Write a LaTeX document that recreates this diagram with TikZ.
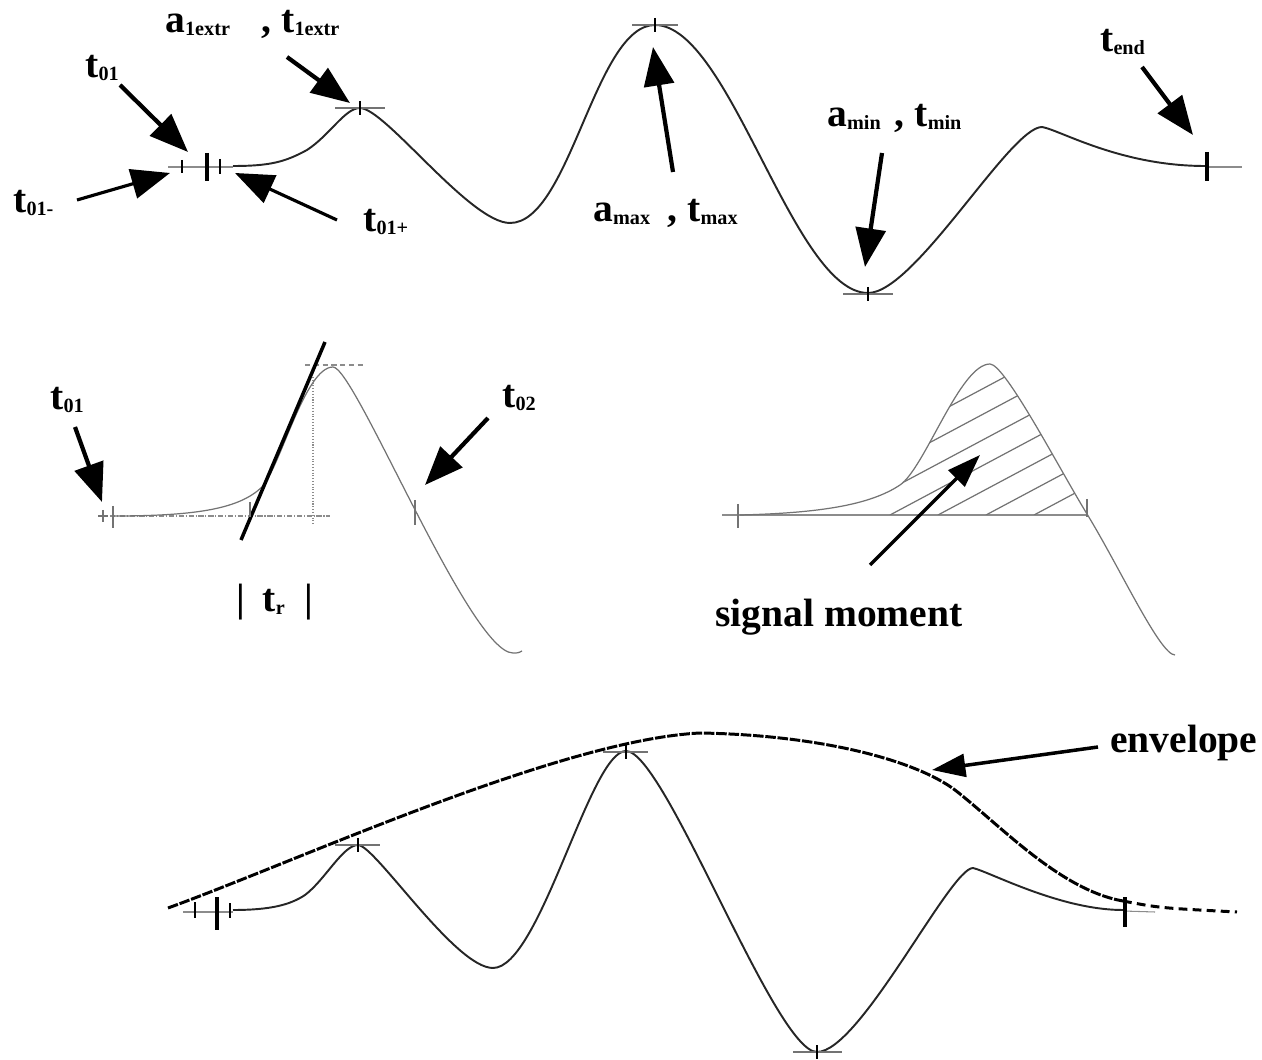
\documentclass[tikz,border=0pt]{standalone}
\usepackage{fontspec}
\setmainfont{Liberation Serif}
\usetikzlibrary{arrows.meta}
\newcommand{\lowidx}[1]{\raisebox{-1.5pt}{\fontsize{11.5}{13}\selectfont #1}}

\begin{document}
\begin{tikzpicture}[x=0.02cm, y=-0.02cm,
    lbl/.style={font=\bfseries\fontsize{22.5}{26}\selectfont, inner sep=0pt, anchor=base west},
    sig/.style={line width=1.1pt, black!85},
    faint/.style={line width=0.7pt, black!55},
    base/.style={line width=0.6pt, black!45},
    bigtick/.style={line width=2pt},
    smalltick/.style={line width=1.5pt},
    ptr/.style={-{Triangle[length=22pt, width=17pt]}, line width=2.4pt},
    thinptr/.style={-{Triangle[length=19pt, width=13pt]}, line width=2pt}
]
\useasboundingbox (0,0) rectangle (1262,1060);

% full signal
\draw[base] (168,167) -- (233,167);
\draw[base] (1205,167) -- (1242,167);
\draw[sig] (233,166) .. controls (270,166) and (285,162) .. (307,150)
  .. controls (330,135) and (345,108) .. (360,108)
  .. controls (385,108) and (470,223) .. (510,223)
  .. controls (570,223) and (595,25) .. (655,25)
  .. controls (730,25) and (793,293) .. (868,293)
  .. controls (915,293) and (1010,127) .. (1042,127)
  .. controls (1060,130) and (1120,166) .. (1205,166);
\draw[faint] (335,108) -- (385,108);
\draw[smalltick] (360,101) -- (360,115);
\draw[faint] (632,25) -- (678,25);
\draw[smalltick] (655,18) -- (655,32);
\draw[faint] (843,294) -- (893,294);
\draw[smalltick] (868,287) -- (868,301);
\draw[smalltick] (182,160) -- (182,173);
\draw[bigtick] (207,153) -- (207,181);
\draw[smalltick] (220,159) -- (220,174);
\draw[bigtick] (1207,152) -- (1207,181);

\coordinate (t01tip) at (188,152);
\coordinate (t01mtip) at (170,173);
\coordinate (t01ptip) at (235,173);
\coordinate (extrtip) at (350,103);
\coordinate (maxtip) at (653,47);
\coordinate (mintip) at (865,267);
\coordinate (endtip) at (1193,135);
\coordinate (t01tail) at (120,85);
\coordinate (t01mtail) at (77,200);
\coordinate (t01ptail) at (337,220);
\coordinate (extrtail) at (287,57);
\coordinate (maxtail) at (673,172);
\coordinate (mintail) at (882,153);
\coordinate (endtail) at (1142,67);

\node[lbl] (t01) at (85,78) {t\lowidx{01}};
\node[lbl] (t01m) at (13,213) {t\lowidx{01-}};
\node[lbl] (t01p) at (363,232) {t\lowidx{01+}};
\node[lbl] (extr) at (165,33) {a\lowidx{1extr}\hspace{18pt}, t\lowidx{1extr}};
\node[lbl] (max) at (593,222) {a\lowidx{max}\hspace{10pt}, t\lowidx{max}};
\node[lbl] (min) at (827,127) {a\lowidx{min}\hspace{8pt}, t\lowidx{min}};
\node[lbl] (tend) at (1100,52) {t\lowidx{end}};

\draw[ptr] (t01tail) -- (t01tip);
\draw[ptr, line width=1.8pt] (t01mtail) -- (t01mtip);
\draw[ptr, line width=1.8pt] (t01ptail) -- (t01ptip);
\draw[ptr] (extrtail) -- (extrtip);
\draw[ptr] (maxtail) -- (maxtip);
\draw[ptr] (mintail) -- (mintip);
\draw[ptr] (endtail) -- (endtip);

% rise time
\draw[base, densely dashdotted] (100,516) -- (330,516);
\draw[base, densely dotted] (313,377) -- (313,525);
\draw[base, densely dashed] (305,365) -- (363,365);
\draw[faint] (113,516) .. controls (200,516) and (240,508) .. (262,487)
  .. controls (280,468) and (305,367) .. (333,367)
  .. controls (355,367) and (470,653) .. (513,653)
  .. controls (518,653) .. (522,651);
\draw[line width=2pt] (241,540) -- (325,342);
\draw[faint] (103,510) -- (103,522);
\draw[faint] (98,516) -- (108,516);
\draw[faint] (113,506) -- (113,528);
\draw[faint] (250,502) -- (250,517);
\draw[faint] (415,500) -- (415,525);

\coordinate (s01tip) at (102,502);
\coordinate (s02tip) at (425,485);
\coordinate (s01tail) at (75,427);
\coordinate (s02tail) at (488,418);
\node[lbl] (s01) at (50,410) {t\lowidx{01}};
\node[lbl] (s02) at (502,408) {t\lowidx{02}};
\node[lbl] (tr) at (236,612) {|\hspace{10pt}t\lowidx{r}\hspace{11pt}|};
\draw[ptr] (s01tail) -- (s01tip);
\draw[ptr] (s02tail) -- (s02tip);

% signal moment
\draw[base] (722,515) -- (1087,515);
\draw[faint] (738,504) -- (738,528);
\draw[faint] (1087,499) -- (1087,517);
\draw[faint] (740,515) .. controls (820,513) and (870,505) .. (900,485)
  .. controls (925,468) and (960,364) .. (990,364)
  .. controls (1005,364) and (1060,470) .. (1087,514)
  .. controls (1120,568) and (1160,655) .. (1175,655);
\begin{scope}
\clip (900,485) .. controls (925,468) and (960,364) .. (990,364)
  .. controls (1005,364) and (1060,470) .. (1087,514) -- (1087,515) -- (885,515)
  .. controls (890,495) .. cycle;
\foreach \x in {698,746,...,1034}
  \draw[faint] (\x,515) -- ++(300,-160);
\end{scope}
\coordinate (momtip) at (980,455);
\coordinate (momtail) at (870,565);
\node[lbl] (mom) at (715,627) {signal moment};
\draw[thinptr] (momtail) -- (momtip);

% envelope
\draw[base] (183,912) -- (233,912);
\draw[base] (1123,911) -- (1155,912);
\draw[sig] (233,910) .. controls (270,910) and (290,905) .. (305,895)
  .. controls (325,880) and (343,845) .. (358,845)
  .. controls (375,845) and (455,968) .. (493,968)
  .. controls (540,968) and (590,751) .. (626,751)
  .. controls (665,751) and (775,1052) .. (817,1052)
  .. controls (860,1052) and (950,868) .. (973,868)
  .. controls (990,872) and (1060,910) .. (1123,910);
\draw[faint] (335,845) -- (380,845);
\draw[smalltick] (358,838) -- (358,852);
\draw[faint] (603,752) -- (648,752);
\draw[smalltick] (626,745) -- (626,759);
\draw[faint] (793,1052) -- (842,1052);
\draw[smalltick] (817,1045) -- (817,1059);
\draw[smalltick] (195,902) -- (195,918);
\draw[bigtick] (217,897) -- (217,930);
\draw[smalltick] (230,903) -- (230,918);
\draw[bigtick] (1125,897) -- (1125,927);
\draw[line width=1.7pt, dash pattern=on 6pt off 1pt] (168,908) .. controls (300,860) and (560,740) .. (700,733)
  .. controls (820,735) and (915,760) .. (955,790)
  .. controls (1000,825) and (1060,890) .. (1123,901);
\draw[line width=1.7pt, dash pattern=on 5pt off 3pt] (1123,901) .. controls (1160,908) .. (1237,912);
\coordinate (envtip) at (932,770);
\coordinate (envtail) at (1098,747);
\node[lbl] (env) at (1110,753) {envelope};
\draw[thinptr] (envtail) -- (envtip);
\end{tikzpicture}
\end{document}
